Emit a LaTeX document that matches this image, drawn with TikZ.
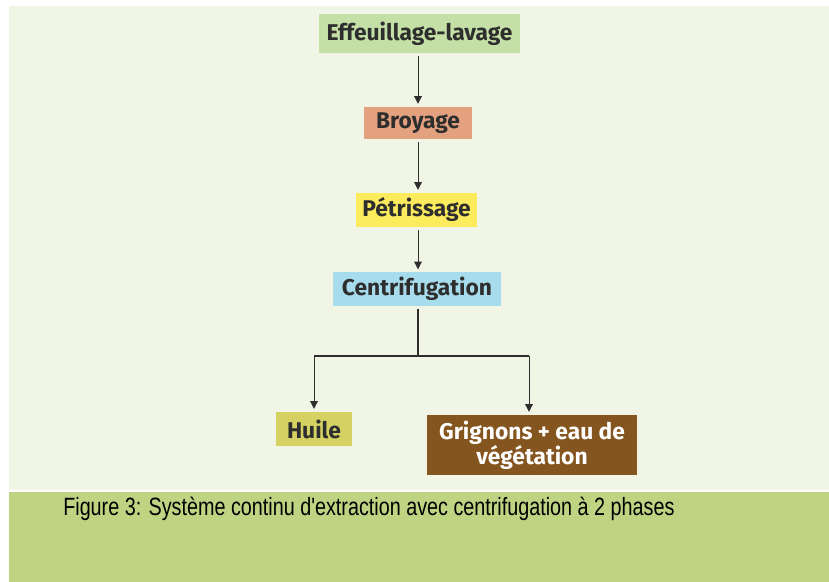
\documentclass[tikz,border=0pt]{standalone}
\usepackage{fontspec}
\usepackage{tikz}
\usetikzlibrary{positioning,calc,arrows.meta}
\newfontfamily\boxfont{Fira Sans}
\newfontfamily\capfont[FakeStretch=0.79]{Liberation Sans}
\definecolor{panel}{HTML}{F1F5E6}
\definecolor{band}{HTML}{BFD482}
\definecolor{cEff}{HTML}{C4E0A6}
\definecolor{cBroy}{HTML}{E3A17F}
\definecolor{cPetr}{HTML}{FCEB5C}
\definecolor{cCent}{HTML}{A6DCEC}
\definecolor{cHuile}{HTML}{D5D263}
\definecolor{cGrig}{HTML}{84551F}
\definecolor{ink}{HTML}{2E2E2E}
\tikzset{
  etape/.style={inner sep=0pt, outer sep=0.08cm, text=ink, font=\boxfont\bfseries\fontsize{16.2}{17.5}\selectfont},
  fleche/.style={draw=ink, line width=0.7pt, -{Triangle[length=5.5pt,width=5.5pt]}},
  ligne/.style={draw=ink}
}
\begin{document}
\begin{tikzpicture}[x=0.025cm, y=-0.025cm]
    % Background
    \useasboundingbox (0,0) rectangle (829,582);
    \fill[white] (0,0) rectangle (829,582);
    \fill[panel] (9,6) rectangle (829,490);
    \fill[band] (9,492) rectangle (829,582);

    % Steps
    \node[etape, fill=cEff, minimum width=5.025cm, minimum height=0.975cm] (eff) at (419.5,33.5) {Effeuillage-lavage};
    \node[etape, fill=cBroy, minimum width=2.675cm, minimum height=0.8cm] (broy) at (418,123) {Broyage};
    \node[etape, fill=cPetr, minimum width=3.025cm, minimum height=0.85cm] (petr) at (416.5,210) {Pétrissage};
    \node[etape, fill=cCent, minimum width=4.175cm, minimum height=0.825cm] (cent) at (417,289) {Centrifugation};

    % Products
    \node[etape, fill=cHuile, minimum width=1.9cm, minimum height=0.85cm] (huile) at (314,429) {Huile};
    \node[etape, fill=cGrig, text=white, align=center, minimum width=5.25cm, minimum height=1.5cm] (grig) at (532,445) {Grignons + eau de\\végétation};

    % Flow
    \draw[fleche] (eff.south -| 418,0) -- (broy.north -| 418,0);
    \draw[fleche] (broy.south -| 418,0) -- (petr.north -| 418,0);
    \draw[fleche] (petr.south -| 418,0) -- (cent.north -| 418,0);

    % Split
    \coordinate (split) at (418,356);
    \coordinate (gauche) at (314,356);
    \coordinate (droite) at (529,356);
    \draw[ligne, line width=1.6pt] (cent.south -| split) -- (split);
    \draw[ligne, line width=1.1pt] (gauche) -- (droite);
    \draw[fleche] (gauche) -- (huile);
    \draw[fleche] (droite) -- (droite |- grig.north);

    % Caption
    \node[anchor=base west, inner sep=0pt, font=\capfont\fontsize{17.8}{20}\selectfont] (legende) at (63,516) {Figure 3: Système continu d'extraction avec centrifugation à 2 phases};
\end{tikzpicture}
\end{document}
